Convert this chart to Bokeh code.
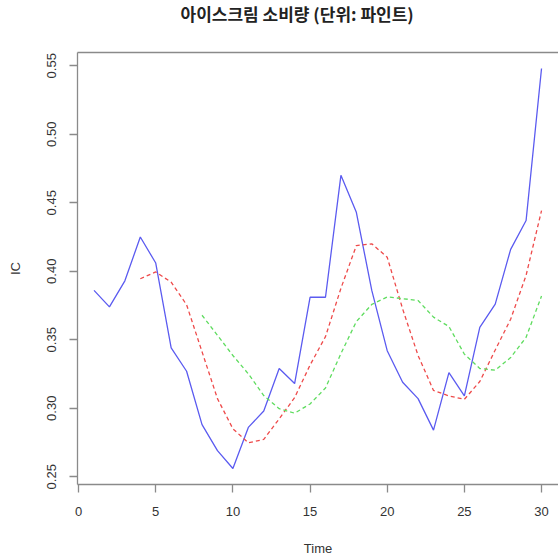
from bokeh.plotting import figure
from bokeh.models import Range1d, FixedTicker, LinearAxis, Title, NumeralTickFormatter
from bokeh.embed import file_html
from bokeh.resources import INLINE

# Ice cream consumption (pints per capita), 30 periods
time = list(range(1, 31))
cons = [0.386, 0.374, 0.393, 0.425, 0.406, 0.344, 0.327, 0.288, 0.269, 0.256,
        0.286, 0.298, 0.329, 0.318, 0.381, 0.381, 0.470, 0.443, 0.386, 0.342,
        0.319, 0.307, 0.284, 0.326, 0.309, 0.359, 0.376, 0.416, 0.437, 0.548]

# 4-period moving average (red dashed), starts at t=4
ma4_time = list(range(4, 31))
ma4 = [0.3945, 0.3995, 0.392, 0.3755, 0.34125, 0.307, 0.285, 0.27475, 0.27725,
       0.29225, 0.30775, 0.3315, 0.35225, 0.3875, 0.41875, 0.42, 0.41025, 0.3725,
       0.3385, 0.313, 0.309, 0.3065, 0.3195, 0.3425, 0.365, 0.397, 0.44425]

# 8-period moving average (green dashed), starts at t=8
ma8_time = list(range(8, 31))
ma8 = [0.367875, 0.35325, 0.3385, 0.325125, 0.30925, 0.299625, 0.296375, 0.303125,
       0.31475, 0.339875, 0.36325, 0.37575, 0.38125, 0.38, 0.378625, 0.3665,
       0.359625, 0.3395, 0.329, 0.32775, 0.337, 0.35175, 0.381875]

x_ticks = [0, 5, 10, 15, 20, 25, 30]
y_ticks = [0.25, 0.30, 0.35, 0.40, 0.45, 0.50, 0.55]

title_text = "아이스크림 소비량 (단위: 파인트)"
x_label = "Time"
y_label = "IC"

W, H = 558, 558
FL, FT, FB = 77, 52, 73
p = figure(width=W, height=H, output_backend="svg", toolbar_location=None,
           x_range=Range1d(-0.07, 31.1), y_range=Range1d(0.24432, 0.55968),
           min_border_left=FL, min_border_right=0, min_border_top=FT,
           min_border_bottom=FB, x_axis_type=None, y_axis_type=None)
p.outline_line_color = None
p.xgrid.visible = False
p.ygrid.visible = False
p.background_fill_color = "white"
p.border_fill_color = "white"

axis_col = "#8a8a8a"
label_col = "#333333"
font = "Liberation Sans"

xa = LinearAxis(ticker=FixedTicker(ticks=x_ticks), axis_label=x_label)
ya = LinearAxis(ticker=FixedTicker(ticks=y_ticks), axis_label=y_label,
                formatter=NumeralTickFormatter(format="0.00"))
for ax in (xa, ya):
    ax.axis_line_color = axis_col
    ax.axis_line_width = 1.3
    ax.major_tick_line_color = axis_col
    ax.major_tick_line_width = 1.3
    ax.major_tick_in = 0
    ax.major_tick_out = 8
    ax.minor_tick_line_color = None
    ax.major_label_text_font = font
    ax.major_label_text_font_size = "13px"
    ax.major_label_text_color = label_col
    ax.axis_label_text_font = font
    ax.axis_label_text_font_size = "13px"
    ax.axis_label_text_font_style = "normal"
    ax.axis_label_text_color = label_col
xa.major_label_standoff = 14
xa.axis_label_standoff = 22
ya.major_label_orientation = "vertical"
ya.major_label_standoff = 13
ya.axis_label_standoff = 22
p.add_layout(xa, "below")
p.add_layout(ya, "left")

top = LinearAxis(ticker=FixedTicker(ticks=[]), major_label_text_font_size="0px",
                 major_label_standoff=0)
top.axis_line_color = axis_col
top.axis_line_width = 1.3
top.major_tick_line_color = None
top.major_tick_out = 0
top.minor_tick_line_color = None
p.add_layout(top, "above")

p.line(time, cons, line_color="#5b5bf0", line_width=1.3)
p.line(ma4_time, ma4, line_color="#ee4a4a", line_width=1.3, line_dash="4 3")
p.line(ma8_time, ma8, line_color="#5fdc5f", line_width=1.3, line_dash="4 3")

# trailing blank line lifts the title within the top margin
p.add_layout(Title(text=title_text + "\n ", align="left", offset=103, standoff=0,
                   vertical_align="top", text_line_height=1.0,
                   text_font="Noto Sans CJK KR", text_font_size="17px",
                   text_font_style="bold", text_color="#222222"), "above")

open("out.html", "w").write(file_html(p, INLINE))
